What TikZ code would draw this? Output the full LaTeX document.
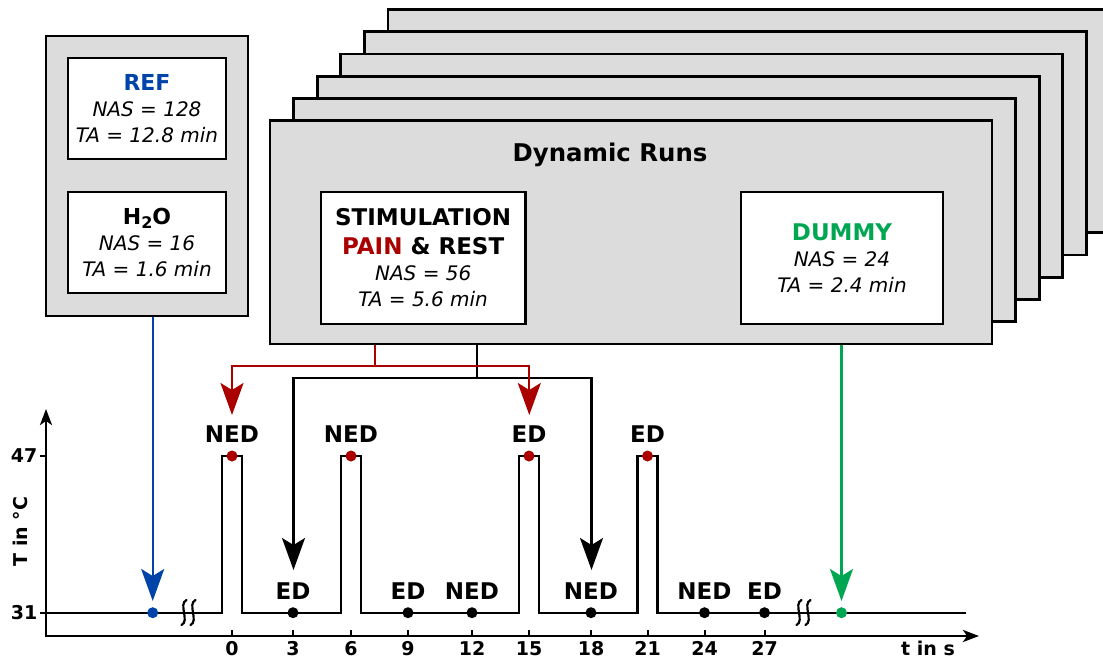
\documentclass[tikz,border=0pt]{standalone}
\usepackage{fontspec}
\setmainfont{DejaVu Sans}
\usetikzlibrary{arrows.meta}

\definecolor{panelgray}{HTML}{DCDCDC}
\definecolor{refblue}{HTML}{0044AA}
\definecolor{painred}{HTML}{AA0000}
\definecolor{dummygreen}{HTML}{00A651}

\tikzset{
  panel/.style={draw=black, fill=panelgray, line width=2.7pt, rectangle, inner sep=0pt},
  infobox/.style={draw=black, fill=white, line width=2.5pt, rectangle, inner sep=0pt,
    align=center, font=\fontsize{20}{26}\selectfont\itshape},
  conn/.style={line width=2.2pt, -{Stealth[length=32pt,width=23pt,inset=7pt]}},
  joint/.style={line width=2.2pt},
  axisline/.style={line width=2.5pt, {Stealth[length=16pt,width=12pt,inset=4pt]}-{Stealth[length=16pt,width=12pt,inset=4pt]}},
  signal/.style={line width=2.2pt, line join=miter},
  dot/.style={circle, inner sep=0pt, minimum size=11pt},
  lbl/.style={font=\fontsize{23}{23}\selectfont\bfseries, inner sep=0pt, anchor=base},
  ticklbl/.style={font=\fontsize{19}{19}\selectfont\bfseries, inner sep=0pt},
  brk/.style={line width=2.2pt, line cap=round}
}

\begin{document}
\begin{tikzpicture}[x=1pt,y=-1pt]
\clip (0,0) rectangle (1103,662);
\useasboundingbox (0,0) rectangle (1103,662);

% reference / water panel
\node[panel, minimum width=202pt, minimum height=280pt] (side) at (147,176) {};
\node[infobox, minimum width=158pt, minimum height=101pt] (ref) at (147,108.5)
  {{\upshape\bfseries\fontsize{22}{26}\selectfont\color{refblue}REF}\\NAS = 128\\TA = 12.8 min};
\node[infobox, minimum width=158pt, minimum height=101pt] (water) at (147,242.5)
  {{\upshape\bfseries\fontsize{22}{26}\selectfont H\raisebox{-0.3ex}{\fontsize{16}{16}\selectfont 2}O}\\NAS = 16\\TA = 1.6 min};

% stack of dynamic runs, drawn back to front
\foreach \k in {5,4,3,2,1} {
  \node[panel, minimum width=722pt, minimum height=223.3pt] (run\k)
    at ({631+23.6*\k},{232.4-22.3*\k}) {};
}
\node[panel, minimum width=722pt, minimum height=223.3pt] (dyn) at (631,232.4) {};
\node[font=\fontsize{24.4}{24}\selectfont\bfseries, inner sep=0pt, anchor=base] (title) at (610,161) {Dynamic Runs};

\node[infobox, minimum width=204.8pt, minimum height=132pt] (stim) at (423.2,258)
  {{\upshape\bfseries\fontsize{23}{26}\selectfont STIMULATION}\\[3pt]
   {\upshape\bfseries\fontsize{23}{26}\selectfont{\color{painred}PAIN} \& REST}\\NAS = 56\\TA = 5.6 min};
\node[infobox, minimum width=202pt, minimum height=132pt] (dummy) at (842,258)
  {{\upshape\bfseries\fontsize{23}{26}\selectfont\color{dummygreen}DUMMY}\\NAS = 24\\TA = 2.4 min};

% axes
\coordinate (origin) at (46,636);
\coordinate (ytop) at (46,409);
\coordinate (xend) at (979,636);
\draw[axisline] (ytop) -- (origin) -- (xend);
\draw[line width=2.2pt] (40,456) -- (46,456);
\draw[line width=2.2pt] (40,612.7) -- (46,612.7);
\node[ticklbl, anchor=east] (y47) at (37.5,456) {47};
\node[ticklbl, anchor=east] (y31) at (37.5,612.7) {31};
\node[ticklbl, rotate=90] (ylab) at (20.7,531.7) {T in °C};
\node[ticklbl, anchor=base] (xlab) at (928,655.5) {t in s};

% time ticks
\foreach \x/\t in {232/0, 293/3, 351/6, 408/9, 472/12, 529/15, 591/18, 647.5/21, 704.5/24, 764.5/27} {
  \draw[line width=2pt] (\x,636) -- (\x,630);
  \node[ticklbl, anchor=base] (t\t) at (\x,655.5) {\t};
}

% temperature trace with four heat pulses
\draw[signal] (46,612.7) -- (222,612.7) -- (222,456) -- (242,456) -- (242,612.7)
  -- (341,612.7) -- (341,456) -- (361,456) -- (361,612.7)
  -- (519,612.7) -- (519,456) -- (539,456) -- (539,612.7)
  -- (637.5,612.7) -- (637.5,456) -- (657.5,456) -- (657.5,612.7)
  -- (966,612.7);

% axis breaks
\foreach \bx in {184,193,799,808} {
  \draw[brk] (\bx+2.5,600) .. controls (\bx-6,604) and (\bx+6,621) .. (\bx-2.5,625);
}

% pulse peaks
\foreach \x/\n/\s in {232/p0/NED, 351/p6/NED, 529/p15/ED, 647.5/p21/ED} {
  \node[dot, fill=painred] (\n) at (\x,456) {};
  \node[lbl] (l\n) at (\x,442.7) {\s};
}
% baseline events
\foreach \x/\n/\s in {293/b3/ED, 408/b9/ED, 472/b12/NED, 591/b18/NED, 704.5/b24/NED, 764.5/b27/ED} {
  \node[dot, fill=black] (\n) at (\x,612.7) {};
  \node[lbl] (l\n) at (\x,599.3) {\s};
}
\node[dot, fill=refblue] (bdot) at (152.7,612.7) {};
\node[dot, fill=dummygreen] (gdot) at (841.5,612.7) {};

% connectors
\coordinate (btip) at (152.7,601);
\coordinate (gtip) at (841.5,601);
\draw[conn, refblue] (side.south -| btip) -- (btip);
\draw[conn, dummygreen] (dyn.south -| gtip) -- (gtip);

\coordinate (blkj) at (477,378.3);
\coordinate (blkL) at (293.5,570);
\coordinate (blkR) at (591.5,570);
\draw[joint] (dyn.south -| blkj) -- (blkj);
\draw[conn] (blkj) -| (blkL);
\draw[conn] (blkj) -| (blkR);

\coordinate (redj) at (375,366);
\coordinate (redL) at (232,415);
\coordinate (redR) at (529.3,415);
\draw[joint, painred] (dyn.south -| redj) -- (redj);
\draw[conn, painred] (redj) -| (redL);
\draw[conn, painred] (redj) -| (redR);
\end{tikzpicture}
\end{document}
